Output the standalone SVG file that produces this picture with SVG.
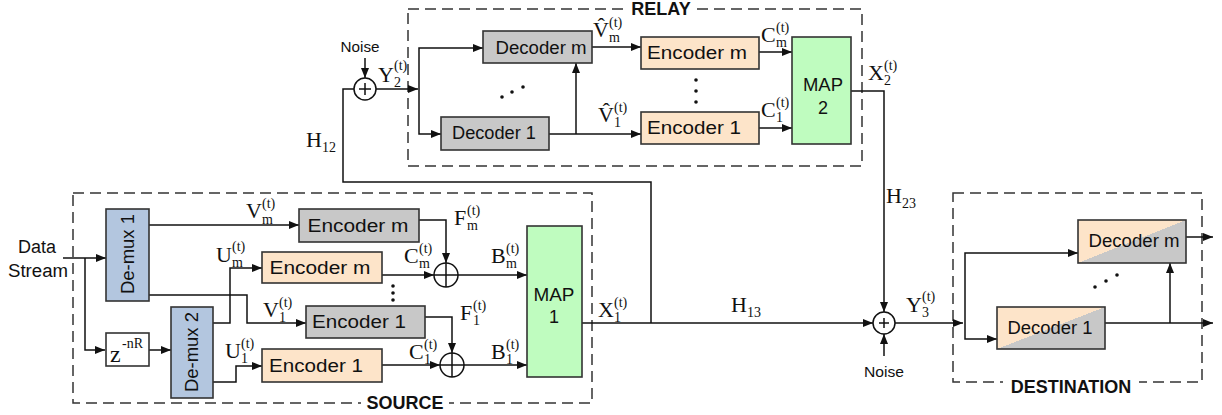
<svg xmlns="http://www.w3.org/2000/svg" width="1222" height="415" viewBox="0 0 1222 415">
<style>
.box{stroke:#333;stroke-width:1.6}
.gray{fill:#c8c8c8}
.orange{fill:#fde4c9}
.green{fill:#bffcbf}
.blue{fill:#b3c6df}
.white{fill:#fff}
.dash{fill:none;stroke:#333;stroke-width:1.5;stroke-dasharray:11 6}
.ln{fill:none;stroke:#111;stroke-width:1.5}
.arr{fill:none;stroke:#111;stroke-width:1.5;marker-end:url(#ah)}
.t{font-family:"Liberation Sans",Arial,sans-serif;font-size:18px;fill:#111}
.tc{text-anchor:middle}
.sec{font-family:"Liberation Sans",Arial,sans-serif;font-size:18px;font-weight:bold;fill:#111;text-anchor:middle}
.noise{font-family:"Liberation Sans",Arial,sans-serif;font-size:15px;fill:#111;text-anchor:middle}
.m{font-family:"Liberation Serif","Times New Roman",serif;font-size:22px;fill:#111}
.s{font-family:"Liberation Serif","Times New Roman",serif;font-size:14px;fill:#111}
.dot{fill:#111}
</style>
<defs>
<marker id="ah" markerUnits="userSpaceOnUse" markerWidth="11" markerHeight="8" refX="10" refY="4" orient="auto">
<path d="M0,0 L10,4 L0,8 z" fill="#111"/>
</marker>
<linearGradient id="dg" x1="0" y1="0" x2="1" y2="1">
<stop offset="0.5" stop-color="#fde4c9"/>
<stop offset="0.5" stop-color="#c8c8c8"/>
</linearGradient>
</defs>
<rect width="1222" height="415" fill="#fff"/>

<!-- containers -->
<g id="relay-box">
<rect class="dash" x="408" y="9" width="454" height="157"/>
<rect x="626" y="1" width="70" height="16" fill="#fff"/>
<text class="sec" x="661" y="15">RELAY</text>
</g>
<g id="source-box">
<rect class="dash" x="73" y="193" width="519" height="210"/>
<rect x="361" y="395" width="88" height="16" fill="#fff"/>
<text class="sec" x="405" y="409">SOURCE</text>
</g>
<g id="destination-box">
<rect class="dash" x="953" y="193" width="249" height="189"/>
<rect x="1003" y="374" width="136" height="18" fill="#fff"/>
<text class="sec" x="1071" y="393">DESTINATION</text>
</g>

<!-- connectors -->
<g id="connectors">
<path class="arr" d="M63,258 H106"/>
<path class="arr" d="M85,258 V350 H105"/>
<path class="arr" d="M149,350 H171"/>
<path class="arr" d="M149,225 H299"/>
<path class="arr" d="M149,295 H247 V323 H306"/>
<path class="arr" d="M213,323 H230 V268 H262"/>
<path class="arr" d="M213,382 H236 V366 H262"/>
<path class="arr" d="M419,220 H446 V263"/>
<path class="arr" d="M382,275 H434"/>
<path class="arr" d="M458,275 H527"/>
<path class="arr" d="M425,317 H452 V353"/>
<path class="arr" d="M382,365 H440"/>
<path class="arr" d="M464,365 H527"/>
<path class="arr" d="M582,323 H873"/>
<path class="ln" d="M354,89 H343 V182 H651 V323"/>
<path class="arr" d="M365,58 V78"/>
<path class="arr" d="M376,89 H418"/>
<path class="arr" d="M419,89 V48 H483"/>
<path class="arr" d="M419,89 V134 H441"/>
<path class="arr" d="M592,47 H641"/>
<path class="arr" d="M549,134 H641"/>
<path class="arr" d="M576,134 V63"/>
<path class="arr" d="M759,52 H792"/>
<path class="arr" d="M759,128 H792"/>
<path class="arr" d="M851,91 H884 V312"/>
<path class="arr" d="M884,356 V334"/>
<path class="arr" d="M895,323 H963"/>
<path class="arr" d="M965,323 V253 H1078"/>
<path class="arr" d="M965,323 V339 H997"/>
<path class="arr" d="M1105,323 H1213"/>
<path class="arr" d="M1170,323 V263"/>
<path class="arr" d="M1186,237 H1213"/>
</g>

<!-- source nodes -->
<g id="data-stream">
<text class="t tc" x="37" y="253" textLength="38" lengthAdjust="spacingAndGlyphs">Data</text>
<text class="t tc" x="38" y="277" textLength="60" lengthAdjust="spacingAndGlyphs">Stream</text>
</g>
<g id="demux1">
<rect class="box blue" x="106" y="209" width="43" height="92"/>
<text class="t tc" transform="translate(134,254) rotate(-90)" textLength="80" lengthAdjust="spacingAndGlyphs">De-mux 1</text>
</g>
<g id="delay">
<rect class="box white" x="106" y="333" width="43" height="33"/>
<text class="m" x="110" y="362" style="font-size:24px">z</text>
<text class="s" x="122" y="348">-nR</text>
</g>
<g id="demux2">
<rect class="box blue" x="171" y="307" width="42" height="91"/>
<text class="t tc" transform="translate(198,352) rotate(-90)" textLength="80" lengthAdjust="spacingAndGlyphs">De-mux 2</text>
</g>
<g id="src-enc-m-gray">
<rect class="box gray" x="299" y="209" width="120" height="33"/>
<text class="t tc" x="358" y="232" textLength="101" lengthAdjust="spacingAndGlyphs">Encoder m</text>
</g>
<g id="src-enc-m-orange">
<rect class="box orange" x="262" y="252" width="120" height="31"/>
<text class="t tc" x="320" y="274" textLength="101" lengthAdjust="spacingAndGlyphs">Encoder m</text>
</g>
<g id="src-enc-1-gray">
<rect class="box gray" x="306" y="306" width="119" height="32"/>
<text class="t tc" x="359" y="328" textLength="94" lengthAdjust="spacingAndGlyphs">Encoder 1</text>
</g>
<g id="src-enc-1-orange">
<rect class="box orange" x="262" y="349" width="120" height="33"/>
<text class="t tc" x="316" y="372" textLength="94" lengthAdjust="spacingAndGlyphs">Encoder 1</text>
</g>
<g id="xor-m">
<circle cx="446" cy="275" r="12" fill="#fff" stroke="#111" stroke-width="1.5"/>
<path class="ln" d="M434,275 H458 M446,263 V287"/>
</g>
<g id="xor-1">
<circle cx="452" cy="365" r="12" fill="#fff" stroke="#111" stroke-width="1.5"/>
<path class="ln" d="M440,365 H464 M452,353 V377"/>
</g>
<g id="map1">
<rect class="box green" x="527" y="226" width="55" height="151"/>
<text class="t tc" x="554" y="301" textLength="41" lengthAdjust="spacingAndGlyphs">MAP</text>
<text class="t tc" x="554" y="323">1</text>
</g>
<g id="src-dots">
<circle class="dot" cx="393" cy="286" r="1.8"/>
<circle class="dot" cx="393" cy="293" r="1.8"/>
<circle class="dot" cx="393" cy="300" r="1.8"/>
</g>

<!-- relay nodes -->
<g id="relay-noise">
<text class="noise" x="360" y="52" textLength="39" lengthAdjust="spacingAndGlyphs">Noise</text>
</g>
<g id="relay-sum">
<circle cx="365" cy="89" r="11" fill="#fff" stroke="#111" stroke-width="1.5"/>
<path class="ln" d="M359,89 H371 M365,83 V95"/>
</g>
<g id="rel-dec-m">
<rect class="box gray" x="483" y="31" width="109" height="32"/>
<text class="t tc" x="541" y="54" textLength="91" lengthAdjust="spacingAndGlyphs">Decoder m</text>
</g>
<g id="rel-dec-1">
<rect class="box gray" x="441" y="117" width="108" height="33"/>
<text class="t tc" x="494" y="139" textLength="84" lengthAdjust="spacingAndGlyphs">Decoder 1</text>
</g>
<g id="rel-enc-m">
<rect class="box orange" x="641" y="37" width="118" height="32"/>
<text class="t tc" x="697" y="59" textLength="100" lengthAdjust="spacingAndGlyphs">Encoder m</text>
</g>
<g id="rel-enc-1">
<rect class="box orange" x="641" y="112" width="118" height="32"/>
<text class="t tc" x="694" y="134" textLength="94" lengthAdjust="spacingAndGlyphs">Encoder 1</text>
</g>
<g id="map2">
<rect class="box green" x="792" y="37" width="59" height="107"/>
<text class="t tc" x="823" y="91" textLength="40" lengthAdjust="spacingAndGlyphs">MAP</text>
<text class="t tc" x="823" y="114">2</text>
</g>
<g id="relay-dots">
<circle class="dot" cx="502" cy="97" r="1.8"/>
<circle class="dot" cx="512" cy="92" r="1.8"/>
<circle class="dot" cx="523" cy="87" r="1.8"/>
<circle class="dot" cx="696" cy="80" r="1.8"/>
<circle class="dot" cx="696" cy="91" r="1.8"/>
<circle class="dot" cx="696" cy="102" r="1.8"/>
</g>

<!-- channel / destination -->
<g id="dest-sum">
<circle cx="884" cy="323" r="11" fill="#fff" stroke="#111" stroke-width="1.5"/>
<path class="ln" d="M879,323 H889 M884,318 V328"/>
</g>
<g id="dest-noise">
<text class="noise" x="884" y="377" textLength="40" lengthAdjust="spacingAndGlyphs">Noise</text>
</g>
<g id="dst-dec-m">
<rect class="box" fill="url(#dg)" x="1078" y="220" width="108" height="43"/>
<text class="t tc" x="1134" y="247" textLength="91" lengthAdjust="spacingAndGlyphs">Decoder m</text>
</g>
<g id="dst-dec-1">
<rect class="box" fill="url(#dg)" x="997" y="307" width="108" height="42"/>
<text class="t tc" x="1050" y="334" textLength="85" lengthAdjust="spacingAndGlyphs">Decoder 1</text>
</g>
<g id="dest-dots">
<circle class="dot" cx="1095" cy="287" r="1.8"/>
<circle class="dot" cx="1106" cy="281" r="1.8"/>
<circle class="dot" cx="1117" cy="275" r="1.8"/>
</g>

<!-- math labels -->
<g id="labels">
<text class="m" x="246" y="218">V</text><text class="s" x="262" y="208">(t)</text><text class="s" x="262" y="224">m</text>
<text class="m" x="216" y="262">U</text><text class="s" x="232" y="251">(t)</text><text class="s" x="232" y="267">m</text>
<text class="m" x="263" y="317">V</text><text class="s" x="279" y="307">(t)</text><text class="s" x="279" y="322">1</text>
<text class="m" x="225" y="358">U</text><text class="s" x="241" y="348">(t)</text><text class="s" x="241" y="363">1</text>
<text class="m" x="454" y="225">F</text><text class="s" x="467" y="215">(t)</text><text class="s" x="467" y="230">m</text>
<text class="m" x="404" y="263">C</text><text class="s" x="419" y="253">(t)</text><text class="s" x="419" y="268">m</text>
<text class="m" x="491" y="263">B</text><text class="s" x="506" y="253">(t)</text><text class="s" x="506" y="268">m</text>
<text class="m" x="460" y="320">F</text><text class="s" x="473" y="310">(t)</text><text class="s" x="473" y="325">1</text>
<text class="m" x="409" y="359">C</text><text class="s" x="424" y="349">(t)</text><text class="s" x="424" y="364">1</text>
<text class="m" x="491" y="359">B</text><text class="s" x="506" y="349">(t)</text><text class="s" x="506" y="364">1</text>
<text class="m" x="598" y="317">X</text><text class="s" x="614" y="307">(t)</text><text class="s" x="614" y="322">1</text>
<text class="m" x="378" y="82">Y</text><text class="s" x="394" y="70">(t)</text><text class="s" x="394" y="87">2</text>
<text class="m" x="593" y="37">V̂</text><text class="s" x="609" y="27">(t)</text><text class="s" x="609" y="42">m</text>
<text class="m" x="598" y="122">V̂</text><text class="s" x="614" y="112">(t)</text><text class="s" x="614" y="127">1</text>
<text class="m" x="761" y="42">C</text><text class="s" x="776" y="32">(t)</text><text class="s" x="776" y="47">m</text>
<text class="m" x="761" y="117">C</text><text class="s" x="776" y="107">(t)</text><text class="s" x="776" y="122">1</text>
<text class="m" x="868" y="80">X</text><text class="s" x="884" y="70">(t)</text><text class="s" x="884" y="85">2</text>
<text class="m" x="306" y="147">H</text><text class="s" x="322" y="152">12</text>
<text class="m" x="886" y="203">H</text><text class="s" x="902" y="208">23</text>
<text class="m" x="731" y="312">H</text><text class="s" x="747" y="317">13</text>
<text class="m" x="906" y="312">Y</text><text class="s" x="922" y="301">(t)</text><text class="s" x="922" y="317">3</text>
</g>
</svg>
